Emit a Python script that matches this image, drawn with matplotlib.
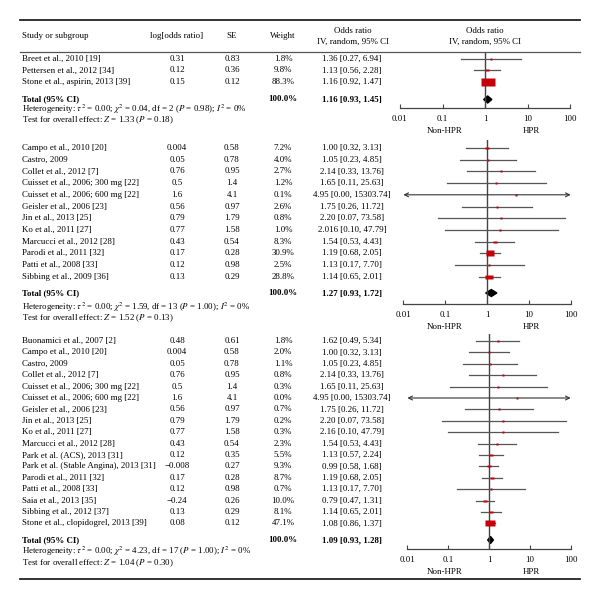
import matplotlib
matplotlib.use("Agg")
import matplotlib.pyplot as plt
from matplotlib.lines import Line2D
from matplotlib.patches import Polygon
import numpy as np

plt.rcParams['font.family'] = ['Liberation Serif', 'DejaVu Serif']
plt.rcParams['mathtext.fontset'] = 'stix'

#region Data

# aspirin studies
studies1 = ["Breet et al., 2010 [19]", "Pettersen et al., 2012 [34]", "Stone et al., aspirin, 2013 [39]"]
logor1 = [0.31, 0.12, 0.15]
se1 = [0.83, 0.36, 0.12]
weight1 = [1.8, 9.8, 88.3]
or1 = ["1.36", "1.13", "1.16"]
lo1 = [0.27, 0.56, 0.92]
hi1 = [6.94, 2.28, 1.47]
total1 = [1.16, 0.93, 1.45]
het1 = ["0.00", "0.04", "2", "0.98", "0"]
test1 = ["1.33", "0.18"]

# clopidogrel studies (subgroup)
studies2 = ["Campo et al., 2010 [20]", "Castro, 2009", "Collet et al., 2012 [7]",
            "Cuisset et al., 2006; 300 mg [22]", "Cuisset et al., 2006; 600 mg [22]",
            "Geisler et al., 2006 [23]", "Jin et al., 2013 [25]", "Ko et al., 2011 [27]",
            "Marcucci et al., 2012 [28]", "Parodi et al., 2011 [32]", "Patti et al., 2008 [33]",
            "Sibbing et al., 2009 [36]"]
logor2 = [0.004, 0.05, 0.76, 0.5, 1.6, 0.56, 0.79, 0.77, 0.43, 0.17, 0.12, 0.13]
se2 = [0.58, 0.78, 0.95, 1.4, 4.1, 0.97, 1.79, 1.58, 0.54, 0.28, 0.98, 0.29]
weight2 = [7.2, 4.0, 2.7, 1.2, 0.1, 2.6, 0.8, 1.0, 8.3, 30.9, 2.5, 28.8]
or2 = ["1.00", "1.05", "2.14", "1.65", "4.95", "1.75", "2.20", "2.016", "1.54", "1.19", "1.13", "1.14"]
lo2 = [0.32, 0.23, 0.33, 0.11, 0.00, 0.26, 0.07, 0.10, 0.53, 0.68, 0.17, 0.65]
hi2 = [3.13, 4.85, 13.76, 25.63, 15303.74, 11.72, 73.58, 47.79, 4.43, 2.05, 7.70, 2.01]
total2 = [1.27, 0.93, 1.72]
het2 = ["0.00", "1.59", "13", "1.00", "0"]
test2 = ["1.52", "0.13"]

# all clopidogrel studies
studies3 = ["Buonamici et al., 2007 [2]", "Campo et al., 2010 [20]", "Castro, 2009",
            "Collet et al., 2012 [7]", "Cuisset et al., 2006; 300 mg [22]",
            "Cuisset et al., 2006; 600 mg [22]", "Geisler et al., 2006 [23]", "Jin et al., 2013 [25]",
            "Ko et al., 2011 [27]", "Marcucci et al., 2012 [28]", "Park et al. (ACS), 2013 [31]",
            "Park et al. (Stable Angina), 2013 [31]", "Parodi et al., 2011 [32]",
            "Patti et al., 2008 [33]", "Saia et al., 2013 [35]", "Sibbing et al., 2012 [37]",
            "Stone et al., clopidogrel, 2013 [39]"]
logor3 = [0.48, 0.004, 0.05, 0.76, 0.5, 1.6, 0.56, 0.79, 0.77, 0.43, 0.12, -0.008, 0.17, 0.12, -0.24, 0.13, 0.08]
se3 = [0.61, 0.58, 0.78, 0.95, 1.4, 4.1, 0.97, 1.79, 1.58, 0.54, 0.35, 0.27, 0.28, 0.98, 0.26, 0.29, 0.12]
weight3 = [1.8, 2.0, 1.1, 0.8, 0.3, 0.0, 0.7, 0.2, 0.3, 2.3, 5.5, 9.3, 8.7, 0.7, 10.0, 8.1, 47.1]
or3 = ["1.62", "1.00", "1.05", "2.14", "1.65", "4.95", "1.75", "2.20", "2.16", "1.54", "1.13",
       "0.99", "1.19", "1.13", "0.79", "1.14", "1.08"]
lo3 = [0.49, 0.32, 0.23, 0.33, 0.11, 0.00, 0.26, 0.07, 0.10, 0.53, 0.57, 0.58, 0.68, 0.17, 0.47, 0.65, 0.86]
hi3 = [5.34, 3.13, 4.85, 13.76, 25.63, 15303.74, 11.72, 73.58, 47.79, 4.43, 2.24, 1.68, 2.05, 7.70, 1.31, 2.01, 1.37]
total3 = [1.09, 0.93, 1.28]
het3 = ["0.00", "4.23", "17", "1.00", "0"]
test3 = ["1.04", "0.30"]

tick_vals = [0.01, 0.1, 1, 10, 100]
tick_labels = ["0.01", "0.1", "1", "10", "100"]

#endregion

#region Set-up

W = H = 600
FS = 6.4
fig = plt.figure(figsize=(6, 6), dpi=100)

RED = '#c4000a'
GREY = '#555555'

def fx(x):
    return x / W

def fy(y):
    return 1 - y / H

def txt(x, y, s, ha='left', bold=False):
    fig.text(fx(x), fy(y), s, ha=ha, va='center', fontsize=FS,
             fontweight='bold' if bold else 'normal')

def hline(y, lw, color):
    fig.add_artist(Line2D([fx(20), fx(580)], [fy(y), fy(y)], lw=lw, color=color))

def num(v):
    return f"{v:g}".replace('-', '\u2212')

box = [(-1.6, -1), (1.6, -1), (1.6, 1), (-1.6, 1), (-1.6, -1)]

#endregion

#region Header

hline(20, 1.3, '#222222')
hline(52, 0.9, '#555555')
hline(579, 1.3, '#222222')

txt(22, 36, "Study or subgroup")
txt(177, 36, "log[odds ratio]", ha='center')
txt(232, 36, "SE", ha='center')
txt(283, 36, "Weight", ha='center')
for xc in [353, 485]:
    txt(xc, 31, "Odds ratio", ha='center')
    txt(xc, 42, "IV, random, 95% CI", ha='center')

#endregion

#region Sections

def draw_section(studies, logor, se, weight, ors, lo, hi, total, het, test,
                 y_first, step, y_total, y_het, y_test, ax_x0, ax_x1, ax_top, ax_y):
    ys = [y_first + i * step for i in range(len(studies))]
    for i, y in enumerate(ys):
        txt(22, y, studies[i])
        txt(177, y, num(logor[i]), ha='center')
        txt(232, y, num(se[i]), ha='center')
        txt(283, y, f"{weight[i]:.1f}%", ha='center')
        txt(352, y, f"{ors[i]} [{lo[i]:.2f}, {hi[i]:.2f}]", ha='center')
    txt(22, y_total, "Total (95% CI)", bold=True)
    txt(283, y_total, "100.0%", ha='center', bold=True)
    txt(352, y_total, f"{total[0]:.2f} [{total[1]:.2f}, {total[2]:.2f}]", ha='center', bold=True)
    txt(22, y_het, r"Heterogeneity: $\tau^2$ = %s; $\chi^2$ = %s, df = %s ($P$ = %s); $I^2$ = %s%%"
        % tuple(het))
    txt(22, y_test, r"Test for overall effect: $Z$ = %s ($P$ = %s)" % tuple(test))

    ax = fig.add_axes([fx(ax_x0), fy(ax_y), (ax_x1 - ax_x0) / W, (ax_y - ax_top) / H])
    ax.set_xscale('log')
    ax.set_xlim(0.01, 100)
    ax.set_ylim(ax_y, ax_top)
    ax.patch.set_visible(False)
    for s in ['top', 'left', 'right']:
        ax.spines[s].set_visible(False)
    ax.spines['bottom'].set_color('#444444')
    ax.spines['bottom'].set_linewidth(0.9)
    ax.set_yticks([])
    ax.set_xticks(tick_vals)
    ax.set_xticklabels(tick_labels, fontsize=FS)
    ax.minorticks_off()
    ax.tick_params(axis='x', direction='in', length=3, width=0.8, color='#444444', pad=5)
    ax.axvline(1, color='#444444', lw=1.0)

    for i, y in enumerate(ys):
        o = float(ors[i])
        if lo[i] < 0.01 or hi[i] > 100:
            ax.annotate('', xy=(0.0102, y), xytext=(98, y),
                        arrowprops=dict(arrowstyle='<->', color='#333333', lw=0.8,
                                        shrinkA=0, shrinkB=0, mutation_scale=7))
        else:
            ax.plot([lo[i], hi[i]], [y, y], color=GREY, lw=0.9)
        wpx = max(1.8, 1.45 * np.sqrt(weight[i]))
        ax.plot([o], [y], marker=box, markersize=wpx * 0.72, color=RED, mec='none')

    dia = [(total[1], y_total), (total[0], y_total - 3.5), (total[2], y_total), (total[0], y_total + 3.5)]
    ax.add_patch(Polygon(dia, closed=True, color='black'))

    fig.text(fx(445), fy(ax_y + 23), "Non-HPR", ha='center', va='center', fontsize=FS)
    fig.text(fx(531), fy(ax_y + 23), "HPR", ha='center', va='center', fontsize=FS)


draw_section(studies1, logor1, se1, weight1, or1, lo1, hi1, total1, het1, test1,
             59, 11.5, 99.5, 109, 120, 400, 570, 52, 108)
draw_section(studies2, logor2, se2, weight2, or2, lo2, hi2, total2, het2, test2,
             148, 11.7, 293, 307, 318, 403, 571, 140, 304)
draw_section(studies3, logor3, se3, weight3, or3, lo3, hi3, total3, het3, test3,
             341, 11.4, 540, 551.5, 563, 407, 571, 334, 549)

#endregion

fig.savefig("out.png", dpi=100)
